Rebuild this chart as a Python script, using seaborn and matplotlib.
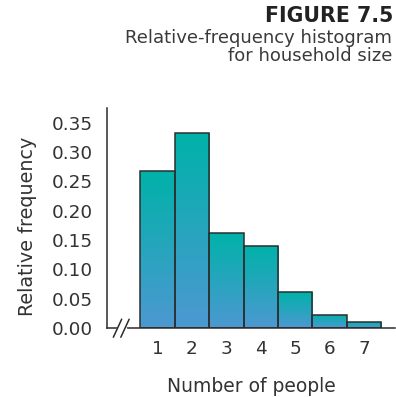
import numpy as np
import matplotlib
matplotlib.use("Agg")
import matplotlib.pyplot as plt
import seaborn as sns
from matplotlib.colors import LinearSegmentedColormap

# Data
household_size = [1, 2, 3, 4, 5, 6, 7]
rel_freq = [0.268, 0.332, 0.162, 0.140, 0.061, 0.023, 0.011]
y_ticks = [0.00, 0.05, 0.10, 0.15, 0.20, 0.25, 0.30, 0.35]

sns.set_style("white")
plt.rcParams["font.family"] = ["DejaVu Sans"]
text_color = "#333333"

fig = plt.figure(figsize=(3.96, 3.97), dpi=100)
ax = fig.add_axes([0.2702, 0.1738, 0.7273, 0.5542])

sns.histplot(x=household_size, weights=rel_freq, discrete=True, stat="count",
             ax=ax, facecolor="none", edgecolor="#2b2f2f", linewidth=1.1,
             alpha=1)

# vertical gradient inside each bar (teal on top, blue at the bottom)
cmap = LinearSegmentedColormap.from_list("tealblue", ["#4d98d2", "#00b2a9"])
grad = np.linspace(0, 1, 256).reshape(-1, 1)
for p in ax.patches:
    x0, y0 = p.get_x(), p.get_y()
    w, h = p.get_width(), p.get_height()
    im = ax.imshow(grad, cmap=cmap, origin="lower", aspect="auto",
                   extent=[x0, x0 + w, y0, y0 + h], zorder=0.5)
    im.set_clip_path(p)
    p.set_zorder(1)

ax.set_xlim(-0.468, 7.904)
ax.set_ylim(0, 0.3754)
ax.set_xticks(household_size)
ax.set_yticks(y_ticks)
ax.set_yticklabels([f"{v:.2f}" for v in y_ticks])

sns.despine(ax=ax)
for s in ["left", "bottom"]:
    ax.spines[s].set_color("#2b2b2b")
    ax.spines[s].set_linewidth(1.1)

ax.tick_params(axis="both", direction="in", length=7.5, width=1.1,
               color="#2b2b2b", labelcolor=text_color, labelsize=13.2)
ax.tick_params(axis="y", pad=10)
ax.tick_params(axis="x", pad=8.5)

ax.set_xlabel("Number of people", fontsize=13.5, color=text_color, labelpad=14)
ax.set_ylabel("Relative frequency", fontsize=13.8, color=text_color)
ax.yaxis.set_label_coords(-0.243, 0.46)

# axis break marks
for dx in (0.0, 0.026):
    ax.plot([0.022 + dx, 0.051 + dx], [-0.042, 0.04], transform=ax.transAxes,
            color="#2b2b2b", lw=1.1, clip_on=False, zorder=5)
ax.plot([0.038, 0.062], [0, 0], transform=ax.transAxes, color="white",
        lw=2.5, clip_on=False, zorder=4)

fig.text(0.992, 0.96, "FIGURE 7.5", ha="right", va="center",
         fontsize=14.8, fontweight="bold", color="#222222")
fig.text(0.99, 0.8925, "Relative-frequency histogram", ha="right",
         va="baseline", fontsize=13, color="#3a3a3a")
fig.text(0.99, 0.846, "for household size", ha="right",
         va="baseline", fontsize=13, color="#3a3a3a")

fig.savefig("out.png", dpi=100)
